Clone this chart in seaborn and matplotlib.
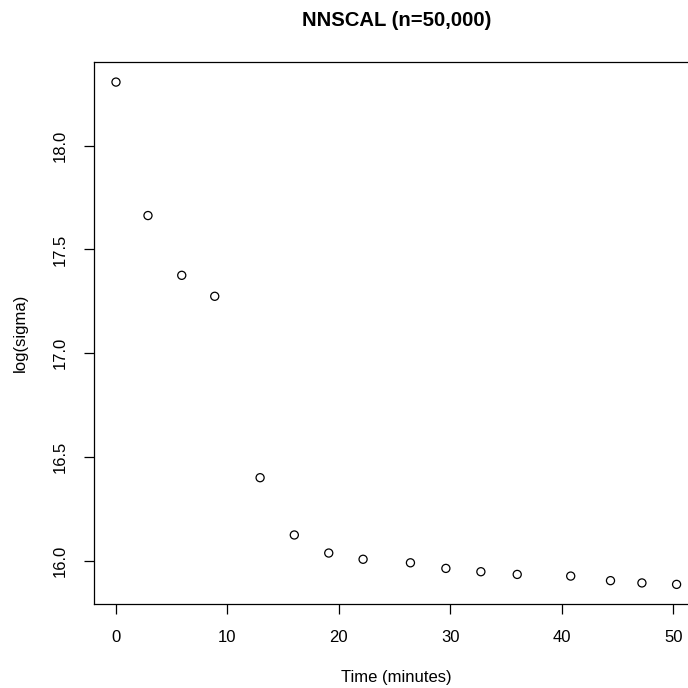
import matplotlib
matplotlib.use("Agg")
import matplotlib.pyplot as plt
import seaborn as sns
import pandas as pd

# Data
time_minutes = [0.0, 2.87, 5.9, 8.86, 12.93, 16.0, 19.09, 22.17, 26.42, 29.6,
                32.74, 36.0, 40.8, 44.37, 47.19, 50.3]
log_sigma = [18.306, 17.663, 17.375, 17.274, 16.40, 16.124, 16.037, 16.007,
             15.990, 15.963, 15.947, 15.934, 15.926, 15.904, 15.893, 15.886]
x_ticks = [0, 10, 20, 30, 40, 50]
y_ticks = [16.0, 16.5, 17.0, 17.5, 18.0]
y_tick_labels = ["16.0", "16.5", "17.0", "17.5", "18.0"]

df = pd.DataFrame({"Time (minutes)": time_minutes, "log(sigma)": log_sigma})

sns.set_theme(style="white")
plt.rcParams["font.family"] = ["Liberation Sans", "DejaVu Sans"]

fig = plt.figure(figsize=(6.88, 6.88), dpi=100)
ax = fig.add_axes([0.1360, 0.1214, 0.880, 0.7885])

sns.scatterplot(data=df, x="Time (minutes)", y="log(sigma)", ax=ax,
                marker="o", s=34, facecolor="none", edgecolor="black",
                linewidth=0.9)

# R-style 4% padding
xr = max(time_minutes) - min(time_minutes)
yr = max(log_sigma) - min(log_sigma)
ax.set_xlim(min(time_minutes) - 0.04 * xr, max(time_minutes) + 0.04 * xr)
ax.set_ylim(min(log_sigma) - 0.04 * yr, max(log_sigma) + 0.04 * yr)

ax.set_xticks(x_ticks)
ax.set_xticklabels([str(t) for t in x_ticks])
ax.set_yticks(y_ticks)
ax.set_yticklabels(y_tick_labels, rotation=90, va="center")

for sp in ax.spines.values():
    sp.set_visible(True)
    sp.set_color("black")
    sp.set_linewidth(0.9)

ax.tick_params(axis="both", which="major", direction="out", length=7.5,
               width=0.9, color="black", labelsize=12, labelcolor="black",
               bottom=True, left=True)
ax.tick_params(axis="x", pad=11)
ax.tick_params(axis="y", pad=11)

ax.set_xlabel("Time (minutes)", fontsize=12, color="black")
ax.set_ylabel("log(sigma)", fontsize=12, color="black")
ax.xaxis.set_label_coords(0.5, -0.1355)
ax.xaxis.label.set_va("center")
ax.yaxis.set_label_coords(-0.1216, 0.5)
ax.yaxis.label.set_va("center")

ax.set_title("NNSCAL (n=50,000)", fontsize=14.6, fontweight="bold",
             y=1.0756, va="center", color="black", pad=0)

fig.savefig("out.png", dpi=100, facecolor="white")
